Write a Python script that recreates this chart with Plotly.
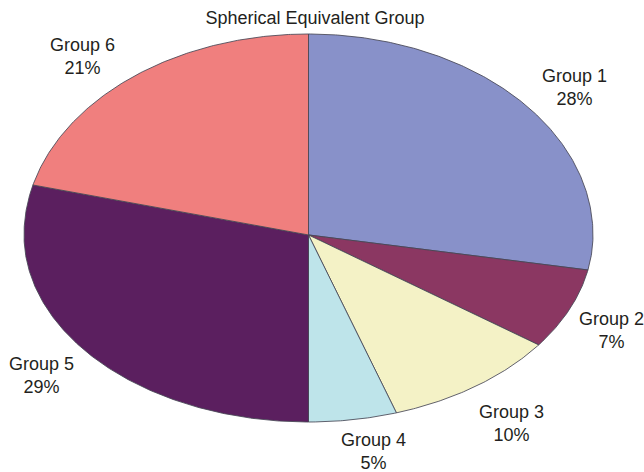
import numpy as np
import plotly.graph_objects as go

# Share of patients per spherical-equivalent group (%)
groups = ["Group 1", "Group 2", "Group 3", "Group 4", "Group 5", "Group 6"]
shares = [28, 7, 10, 5, 29, 21]
colors = ["#8891C9", "#8B3762", "#F4F2C6", "#BEE4EA", "#5B1F5F", "#F07F7E"]

# Label anchor points (paper fractions)
label_x = [0.965, 1.030, 0.856, 0.613, 0.033, 0.105]
label_y = [0.859, 0.238, 0.000, -0.072, 0.123, 0.941]

# Tilted-pie geometry: horizontal radius, back (upper) and front (lower) radii
RX, RY_BACK, RY_FRONT = 285.5, 202.0, 188.0

fig = go.Figure()

total = float(sum(shares))
start = 0.0
for name, val, col in zip(groups, shares, colors):
    frac0 = start / total
    frac1 = (start + val) / total
    # angles measured clockwise from 12 o'clock
    t = np.linspace(frac0, frac1, max(int(val * 8), 12)) * 2 * np.pi
    c = np.cos(t)
    ry = np.where(c > 0, RY_BACK, RY_FRONT)
    xs = np.concatenate([[0.0], RX * np.sin(t), [0.0]])
    ys = np.concatenate([[0.0], ry * c, [0.0]])
    fig.add_trace(go.Scatter(
        x=xs, y=ys, mode="lines", fill="toself", fillcolor=col,
        line=dict(color="rgba(70,70,85,0.85)", width=1),
        name=name, hoverinfo="skip", showlegend=False,
    ))
    start += val

font = dict(family="Liberation Sans, Arial, sans-serif", size=18, color="#231f20")

for name, val, lx, ly in zip(groups, shares, label_x, label_y):
    fig.add_annotation(
        x=lx, y=ly, xref="paper", yref="paper",
        text=f"{name}<br>{val}%", showarrow=False, font=font,
        align="center", xanchor="center", yanchor="middle",
    )

fig.update_layout(
    width=644, height=472,
    margin=dict(l=23, r=50, t=33, b=49),
    paper_bgcolor="white", plot_bgcolor="white",
    title=dict(
        text="Spherical Equivalent Group",
        x=315 / 644, xanchor="center",
        y=1 - 17.5 / 472, yanchor="middle",
        font=font,
    ),
    xaxis=dict(range=[-RX - 1, RX + 1], visible=False, fixedrange=True),
    yaxis=dict(range=[-RY_FRONT - 1, RY_BACK + 1], visible=False, fixedrange=True),
)

fig.write_html("out.html")
